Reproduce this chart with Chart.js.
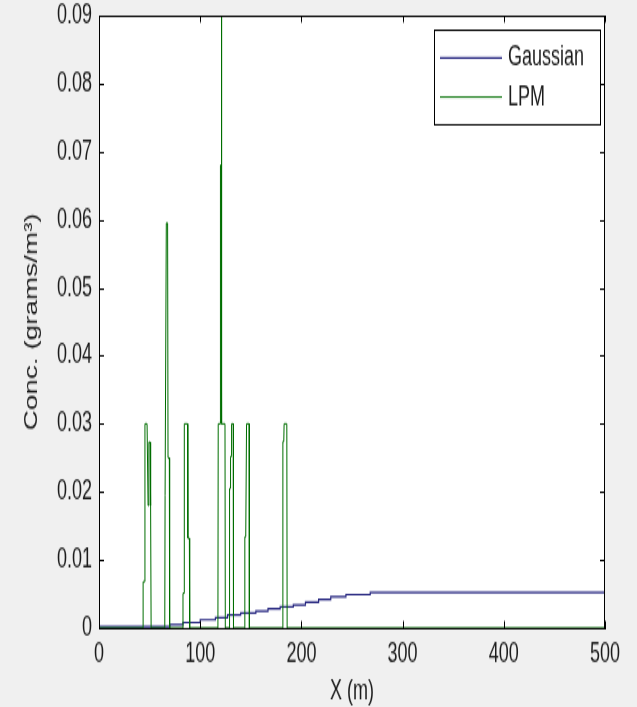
<!DOCTYPE html>
<html>
<head>
<meta charset="utf-8">
<script src="https://cdn.jsdelivr.net/npm/chart.js@4.4.1/dist/chart.umd.min.js"></script>
<style>
  html, body { margin: 0; padding: 0; background: #f0f0f0; }
</style>
</head>
<body>
<!-- figure is drawn at 637x456 and shown stretched to the window height -->
<canvas id="plot" width="637" height="456" style="display:block;width:637px;height:707px"></canvas>
<script>
// Gaussian plume: stepped concentration along x
const gaussX = [0, 70, 83, 100, 115, 127, 140, 155, 167, 179, 192, 204, 217, 229, 244, 268, 306, 500];
const gaussY = [0, 0.0002, 0.0005, 0.0008, 0.0012, 0.0015, 0.0019, 0.0022, 0.0025, 0.0028, 0.0031,
                0.0034, 0.0038, 0.0042, 0.0046, 0.0049, 0.0052, 0.0052];

// LPM: particle counts give narrow spikes
const lpmX = [0,
  43.5, 43.6, 45.2, 45.4, 47.5, 48.5, 49.3, 50.5, 51.0, 51.5,
  65.0, 65.3, 66.2, 66.5, 67.8, 68.2, 69.5, 69.8,
  82.8, 83.0, 84.0, 84.3, 87.5, 87.8, 89.3, 89.6,
  117.5, 117.8, 119.8, 120.0, 120.6, 120.8, 121.2, 121.4, 124.5, 124.8,
  128.7, 129.0, 129.8, 130.0, 130.8, 131.0, 132.6, 132.9,
  143.9, 144.1, 145.0, 145.8, 148.3, 148.6,
  181.5, 181.7, 182.6, 182.9, 185.6, 185.9,
  500];
const lpmY = [0,
  0, 0.0068, 0.0068, 0.03, 0.03, 0.018, 0.0273, 0.0273, 0.018, 0,
  0, 0.0195, 0.0195, 0.0595, 0.0595, 0.025, 0.025, 0,
  0, 0.0051, 0.0051, 0.03, 0.03, 0.0132, 0.0132, 0,
  0, 0.03, 0.03, 0.068, 0.068, 0.1, 0.1, 0.03, 0.03, 0,
  0, 0.0205, 0.0205, 0.0252, 0.0252, 0.03, 0.03, 0,
  0, 0.0134, 0.0134, 0.03, 0.03, 0,
  0, 0.0274, 0.0274, 0.03, 0.03, 0,
  0];

const seriesNames = ['Gaussian', 'LPM'];
const seriesColors = ['#262680', '#006e00'];

const xTicks = [0, 100, 200, 300, 400, 500];
const yTicks = [0, 0.01, 0.02, 0.03, 0.04, 0.05, 0.06, 0.07, 0.08, 0.09];

const FONT = '"Liberation Sans", Arial, sans-serif';
const TEXT = '#1c1c1c';
const TICK_V = 4.5;   // inward tick length on x axes
const TICK_H = 5;     // inward tick length on y axes

const toPoints = (xs, ys) => xs.map((x, i) => ({ x: x, y: ys[i] }));

// white axes area, box on all sides, inward ticks and legend box
const matlabAxes = {
  id: 'matlabAxes',
  beforeDraw(chart) {
    const { ctx, chartArea: a } = chart;
    ctx.save();
    ctx.fillStyle = '#ffffff';
    ctx.fillRect(a.left, a.top, a.right - a.left, a.bottom - a.top);
    ctx.restore();
  },
  afterDraw(chart) {
    const { ctx, chartArea: a, scales } = chart;
    ctx.save();
    ctx.strokeStyle = '#000';
    ctx.lineWidth = 1;
    ctx.beginPath();
    ctx.moveTo(a.left, a.top + 0.5);
    ctx.lineTo(a.right, a.top + 0.5);
    ctx.moveTo(a.right - 0.5, a.top);
    ctx.lineTo(a.right - 0.5, a.bottom);
    xTicks.forEach(v => {
      const px = Math.round(scales.x.getPixelForValue(v)) + 0.5;
      ctx.moveTo(px, a.bottom);
      ctx.lineTo(px, a.bottom - TICK_V);
      ctx.moveTo(px, a.top);
      ctx.lineTo(px, a.top + TICK_V);
    });
    yTicks.forEach(v => {
      const py = Math.round(scales.y.getPixelForValue(v)) + 0.5;
      ctx.moveTo(a.left, py);
      ctx.lineTo(a.left + TICK_H, py);
      ctx.moveTo(a.right, py);
      ctx.lineTo(a.right - TICK_H, py);
    });
    ctx.stroke();

    // legend in the upper right corner
    const box = { left: 434.5, right: 600.5, top: 19.5, bottom: 80.5 };
    const rows = [37.4, 62.6];
    ctx.fillStyle = '#ffffff';
    ctx.fillRect(box.left, box.top, box.right - box.left, box.bottom - box.top);
    ctx.strokeRect(box.left, box.top, box.right - box.left, box.bottom - box.top);
    ctx.font = '18px ' + FONT;
    ctx.textBaseline = 'middle';
    ctx.textAlign = 'left';
    chart.data.datasets.forEach((ds, i) => {
      const ry = rows[i];
      ctx.strokeStyle = ds.borderColor;
      ctx.lineWidth = ds.borderWidth;
      ctx.beginPath();
      ctx.moveTo(440, ry);
      ctx.lineTo(502, ry);
      ctx.stroke();
      ctx.fillStyle = TEXT;
      ctx.fillText(ds.label, 508, ry);
    });
    ctx.restore();
  }
};

new Chart(document.getElementById('plot'), {
  type: 'line',
  data: {
    datasets: [
      {
        label: seriesNames[0],
        data: toPoints(gaussX, gaussY),
        borderColor: seriesColors[0],
        borderWidth: 1.2,
        stepped: 'after',
        pointRadius: 0,
        fill: false,
        order: 1
      },
      {
        label: seriesNames[1],
        data: toPoints(lpmX, lpmY),
        borderColor: seriesColors[1],
        borderWidth: 1,
        pointRadius: 0,
        tension: 0,
        fill: false,
        order: 0
      }
    ]
  },
  options: {
    responsive: false,
    devicePixelRatio: 1,
    animation: false,
    layout: { padding: { top: 10, right: 32, left: 0, bottom: 0 } },
    plugins: { legend: { display: false }, tooltip: { enabled: false } },
    scales: {
      x: {
        type: 'linear',
        min: 0,
        max: 500,
        afterFit: s => { s.height = 51; s.paddingLeft = 0; s.paddingRight = 0; },
        afterBuildTicks: s => { s.ticks = xTicks.map(v => ({ value: v })); },
        grid: { display: false, drawTicks: false },
        border: { display: true, color: '#000', width: 1 },
        ticks: {
          padding: 8,
          color: TEXT,
          font: { family: FONT, size: 18, lineHeight: 1 },
          maxRotation: 0
        },
        title: {
          display: true,
          text: 'X (m)',
          color: TEXT,
          font: { family: FONT, size: 18, lineHeight: 1 },
          padding: { top: 0, bottom: 1 }
        }
      },
      y: {
        type: 'linear',
        min: 0,
        max: 0.09,
        afterFit: s => { s.width = 99; s.paddingTop = 0; s.paddingBottom = 0; },
        afterBuildTicks: s => { s.ticks = yTicks.map(v => ({ value: v })); },
        grid: { display: false, drawTicks: false },
        border: { display: true, color: '#000', width: 1 },
        ticks: {
          padding: 7,
          color: TEXT,
          font: { family: FONT, size: 18, lineHeight: 1 },
          callback: v => String(Math.round(v * 100) / 100)
        },
        title: {
          display: true,
          text: 'Conc. (grams/m³)',
          color: TEXT,
          font: { family: FONT, size: 18, lineHeight: 1 },
          padding: { top: 23, bottom: 0 }
        }
      }
    }
  },
  plugins: [matlabAxes]
});
</script>
</body>
</html>
